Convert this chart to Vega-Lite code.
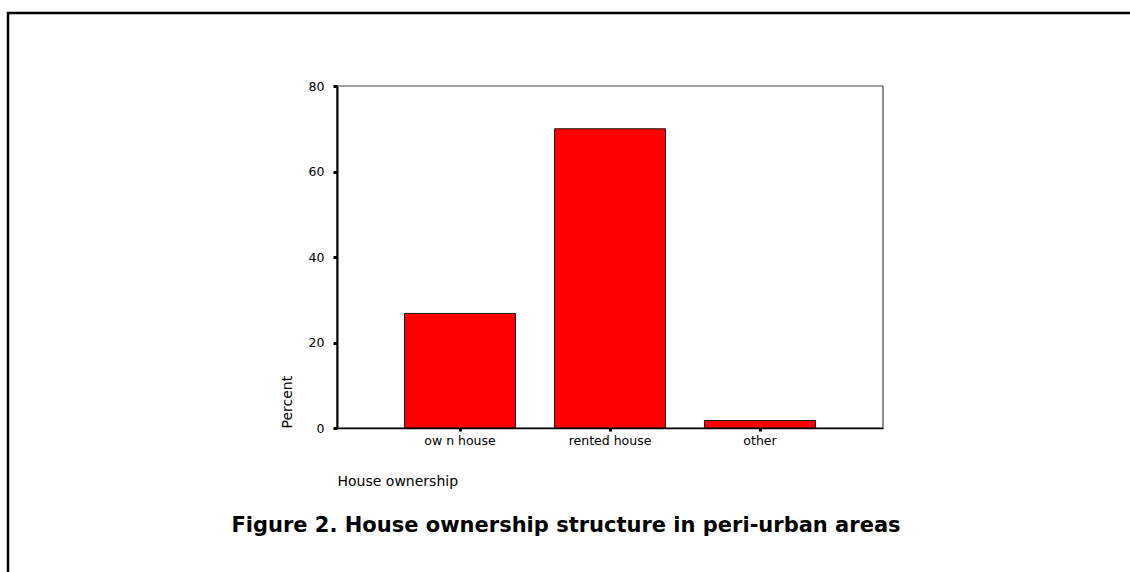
{
  "$schema": "https://vega.github.io/schema/vega-lite/v6.json",
  "autosize": {"type": "none"},
  "width": 1140,
  "height": 580,
  "padding": {"left": 8, "top": 13, "right": 0, "bottom": 0},
  "background": "white",
  "config": {
    "view": {"stroke": "black", "strokeWidth": 2.5},
    "font": "DejaVu Sans"
  },
  "title": {
    "text": "Figure 2. House ownership structure in peri-urban areas",
    "orient": "bottom",
    "frame": "group",
    "anchor": "middle",
    "offset": -78,
    "dx": -12,
    "font": "DejaVu Sans",
    "fontSize": 21,
    "fontWeight": "bold",
    "color": "black"
  },
  "encoding": {
    "y": {
      "field": "Percent",
      "type": "quantitative",
      "scale": {"domain": [0, 80], "range": [415, 73], "nice": false, "zero": true},
      "axis": {
        "title": "Percent",
        "values": [0, 20, 40, 60, 80],
        "grid": false,
        "offset": -329,
        "domainColor": "black",
        "domainWidth": 2,
        "tickColor": "black",
        "tickWidth": 3,
        "tickSize": 4,
        "labelFont": "DejaVu Sans",
        "labelFontSize": 12.5,
        "labelColor": "black",
        "labelPadding": 9,
        "labelFlush": false,
        "labelOverlap": false,
        "titleFont": "DejaVu Sans",
        "titleFontSize": 14,
        "titleFontWeight": "normal",
        "titleColor": "black",
        "titleAnchor": "start",
        "titleAlign": "left",
        "titleBaseline": "middle",
        "titleX": -50,
        "zindex": 1
      }
    }
  },
  "layer": [
    {
      "data": {"values": [{"x0": 0, "x1": 1, "Percent": 0, "P2": 80}]},
      "mark": {"type": "rect", "fillOpacity": 0, "stroke": "#444444", "strokeWidth": 1.2},
      "encoding": {
        "x": {"field": "x0", "type": "quantitative", "scale": {"domain": [0, 1], "range": [329, 875], "nice": false, "zero": false}, "axis": null},
        "x2": {"field": "x1"},
        "y2": {"field": "P2"}
      }
    },
    {
      "data": {"values": [
        {"ownership": "ow n house", "Percent": 26.8},
        {"ownership": "rented house", "Percent": 70.0},
        {"ownership": "other", "Percent": 1.75}
      ]},
      "mark": {"type": "bar", "fill": "#ff0000", "stroke": "#1a1a1a", "strokeWidth": 1},
      "encoding": {
        "x": {
          "field": "ownership",
          "type": "nominal",
          "sort": null,
          "scale": {"range": [329, 875], "paddingInner": 0.26, "paddingOuter": 0.45},
          "axis": {
            "title": "House ownership",
            "offset": -165,
            "domainColor": "black",
            "domainWidth": 1.5,
            "tickColor": "black",
            "tickWidth": 3,
            "tickSize": 3,
            "labelAngle": 0,
            "labelFont": "DejaVu Sans",
            "labelFontSize": 12.5,
            "labelColor": "black",
            "labelPadding": 3,
            "titleFont": "DejaVu Sans",
            "titleFontSize": 14,
            "titleFontWeight": "normal",
            "titleColor": "black",
            "titleAnchor": "start",
            "titleAlign": "left",
            "titleBaseline": "middle",
            "titleY": 53,
            "zindex": 1
          }
        }
      }
    }
  ],
  "resolve": {"scale": {"x": "independent"}, "axis": {"x": "independent"}}
}
